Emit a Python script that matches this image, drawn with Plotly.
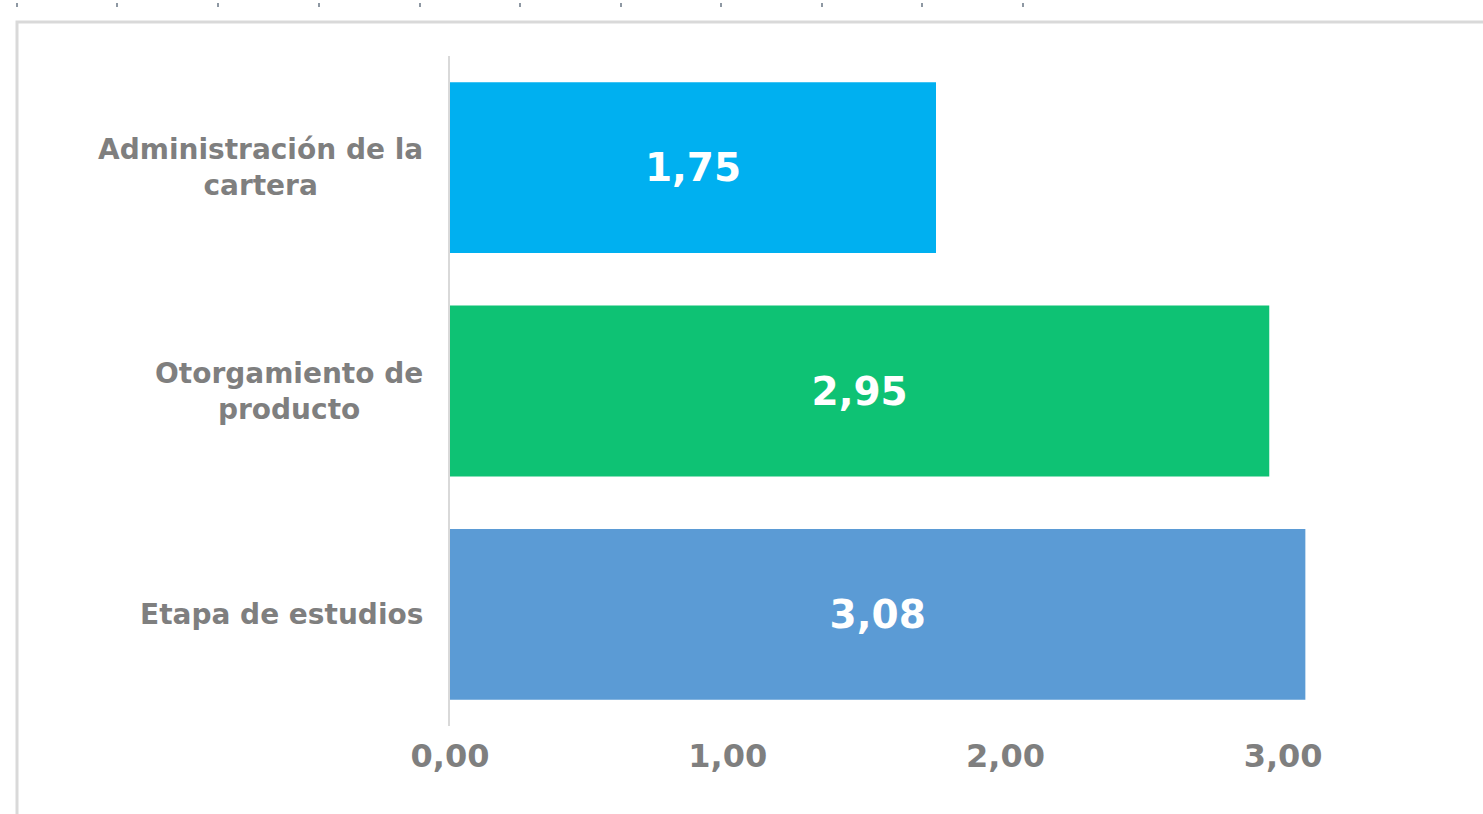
import plotly.graph_objects as go

categories = ["Administración de la<br>cartera", "Otorgamiento de<br>producto", "Etapa de estudios"]
values = [1.75, 2.95, 3.08]
colors = ["#00B0F0", "#0EC274", "#5B9BD5"]
value_text = ["1,75", "2,95", "3,08"]
x_ticks = [0, 1, 2, 3]

W, H = 1483, 814
L, R, T, B = 450, 61, 56, 88
pw, ph = W - L - R, H - T - B
FONT = "DejaVu Sans"

def px(x):
    return (x - L) / pw

def py(y):
    return (H - B - y) / ph

fig = go.Figure()
fig.add_trace(go.Bar(
    y=categories, x=values, orientation="h",
    marker=dict(color=colors, line=dict(width=0)),
    text=value_text, textposition="inside", insidetextanchor="middle",
    textfont=dict(family=FONT, size=39, color="white", weight="bold"),
    hoverinfo="skip",
))

annotations = []
for c in categories:
    annotations.append(dict(
        x=px(425), xref="paper", y=c, yref="y", xanchor="right", yanchor="middle",
        text=c, showarrow=False, align="center",
        font=dict(family=FONT, size=28, color="#7F7F7F", weight="bold"),
    ))

shapes = [dict(type="rect", xref="paper", yref="paper",
               x0=px(17), x1=px(1600), y0=py(22), y1=py(900),
               line=dict(color="#D9D9D9", width=3), fillcolor="rgba(0,0,0,0)", layer="below")]
for tx in [17, 117, 218, 319, 420, 520, 621, 721, 822, 922, 1023]:
    shapes.append(dict(type="line", xref="paper", yref="paper",
                       x0=px(tx), x1=px(tx), y0=py(3), y1=py(7),
                       line=dict(color="#8E98A3", width=2)))

fig.update_layout(
    width=W, height=H,
    margin=dict(l=L, r=R, t=T, b=B),
    paper_bgcolor="white", plot_bgcolor="white",
    separators=",.",
    bargap=0.235,
    showlegend=False,
    annotations=annotations,
    shapes=shapes,
    xaxis=dict(range=[0, 3.5], tickvals=x_ticks, tickformat=".2f",
               showgrid=False, zeroline=False, showline=False,
               ticks="", ticklabelstandoff=8,
               tickfont=dict(family=FONT, size=32, color="#7F7F7F", weight="bold")),
    yaxis=dict(categoryorder="array", categoryarray=categories[::-1],
               showticklabels=False, showgrid=False, zeroline=False,
               showline=True, linecolor="#D9D9D9", linewidth=2, ticks=""),
)

fig.write_html("out.html", config={"displayModeBar": False},
               post_script="document.body.style.margin='0';document.body.style.overflow='hidden';")
